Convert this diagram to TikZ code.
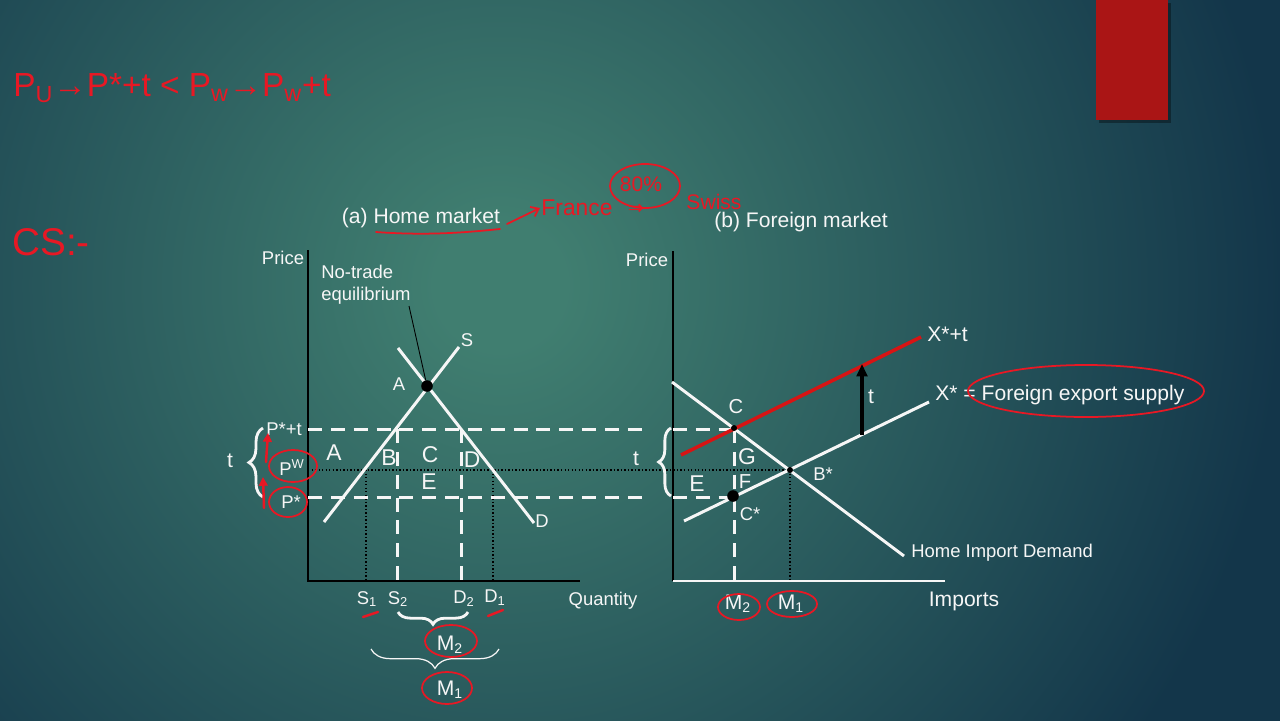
\documentclass[tikz,border=0pt]{standalone}
\usepackage{fontspec}
\setmainfont{Liberation Sans}
\newfontfamily\symfont{DejaVu Sans}
\usetikzlibrary{decorations.pathreplacing,arrows.meta}

\definecolor{bgdark}{RGB}{19,54,74}
\definecolor{bglight}{RGB}{64,126,112}
\definecolor{boxred}{RGB}{170,21,21}
\definecolor{pen}{RGB}{232,24,36}
\definecolor{curvered}{RGB}{215,20,20}
\definecolor{ink}{RGB}{246,246,246}
\pgfdeclareradialshading{bgglow}{\pgfpoint{0bp}{0bp}}{color(0bp)=(bglight); color(1.4bp)=(bglight); color(17bp)=(bgdark); color(50bp)=(bgdark)}

\begin{document}
\begin{tikzpicture}[x=0.02cm,y=-0.02cm,
  lbl/.style={text=ink, inner sep=0pt, font=\fontsize{10.5}{12.6}\selectfont},
  midlbl/.style={text=ink, inner sep=0pt, font=\fontsize{11.5}{13.5}\selectfont},
  biglbl/.style={text=ink, inner sep=0pt, font=\fontsize{13}{15}\selectfont},
  ttl/.style={text=ink, inner sep=0pt, font=\fontsize{12}{14}\selectfont},
  curve/.style={draw=ink, line width=1.7pt},
  redcurve/.style={draw=curvered, line width=2pt},
  axisline/.style={draw=black, line width=1.1pt},
  guide/.style={draw=ink, line width=1.7pt, dash pattern=on 8pt off 5pt},
  dotguide/.style={draw=black, line width=0.8pt, dash pattern=on 0.8pt off 1.2pt},
  pen/.style={draw=pen, line width=1pt, line cap=round, line join=round},
  penfont/.style={text=pen, inner sep=0pt},
  dotnode/.style={circle, fill=black, inner sep=0pt, minimum size=6.6pt},
  smalldot/.style={circle, fill=black, inner sep=0pt, minimum size=3.4pt},
  wbrace/.style={draw=ink, line width=1.6pt, decorate, decoration={brace, amplitude=#1}},
  wbrace/.default=7pt,
]
\useasboundingbox (0,0) rectangle (1280,720);

% background
\fill[bgdark] (0,0) rectangle (1280,720);
\begin{scope}
  \clip (0,0) rectangle (1280,720);
  \shade[shading=bgglow] (500,285) circle (1150);
\end{scope}

% red box
\fill[black, opacity=0.35] (1099,3) rectangle (1171,123);
\fill[boxred] (1096,0) rectangle (1168,120);

% titles
\node[ttl] (titleA) at (421,218) {(a) Home market};
\node[ttl] (titleB) at (801,222) {(b) Foreign market};

% axes
\coordinate (LT) at (308,250); \coordinate (LO) at (308,581); \coordinate (LR) at (580,581);
\coordinate (RT) at (673,251); \coordinate (RO) at (673,581); \coordinate (RR) at (945,581);
\draw[axisline] (LT) -- (LO) -- (LR);
\draw[axisline] (RT) -- (RO);
\draw[draw=ink, line width=1.3pt] (RO) -- (RR);

\node[lbl] (priceL) at (283,258) {Price};
\node[lbl] (qty) at (603,601) {Quantity};
\node[lbl] (priceR) at (647,260) {Price};
\node[ttl] (imports) at (964,601) {Imports};

% dotted guides
\coordinate (dh1) at (308,470); \coordinate (dh2) at (790,470);
\draw[dotguide] (dh1) -- (dh2);
\coordinate (s1t) at (366,470); \coordinate (s1b) at (366,581);
\coordinate (d1t) at (493,470); \coordinate (d1b) at (493,581);
\coordinate (m1t) at (790,470); \coordinate (m1b) at (790,581);
\draw[dotguide] (s1t) -- (s1b);
\draw[dotguide] (d1t) -- (d1b);
\draw[dotguide] (m1t) -- (m1b);

% dashed guides
\coordinate (pt1) at (308,429); \coordinate (pt2) at (648,429);
\coordinate (pt3) at (673,429); \coordinate (pt4) at (734,429);
\coordinate (ps1) at (308,497); \coordinate (ps2) at (648,497);
\coordinate (ps3) at (673,497); \coordinate (ps4) at (732,497);
\draw[guide] (pt1) -- (pt2);
\draw[guide] (pt3) -- (pt4);
\draw[guide] (ps1) -- (ps2);
\draw[guide] (ps3) -- (ps4);
\coordinate (s2t) at (397,429); \coordinate (s2b) at (397,581);
\coordinate (d2t) at (461,429); \coordinate (d2b) at (461,581);
\coordinate (m2t) at (734,429); \coordinate (m2b) at (734,581);
\draw[guide] (s2t) -- (s2b);
\draw[guide] (d2t) -- (d2b);
\draw[guide] (m2t) -- (m2b);

% home supply and demand
\coordinate (Sa) at (324,522); \coordinate (Sb) at (459,347);
\coordinate (Da) at (398,348); \coordinate (Db) at (534,523);
\draw[curve] (Sa) -- (Sb);
\draw[curve] (Da) -- (Db);
\node[lbl] (Slab) at (467,340) {S};
\node[lbl] (Dlab) at (542,521) {D};
\node[dotnode] (dotA) at (427,386) {};
\node[lbl] (Alab) at (399,384) {A};
\node[lbl, align=left, anchor=north west] (notrade) at (321,265) {No-trade\\equilibrium};
\coordinate (nt) at (409,306);
\draw[black, line width=0.5pt] (nt) -- (dotA);

% area letters, home
\node[biglbl] (aA) at (334,453) {A};
\node[biglbl] (aB) at (389,458) {B};
\node[biglbl] (aC) at (430,455) {C};
\node[biglbl] (aD) at (472,460) {D};
\node[biglbl] (aE) at (429,482) {E};

% price labels
\node[lbl] (pst) at (284,429) {P*+t};
\node[lbl] (pw) at (292,468) {P\textsuperscript{W}};
\node[lbl] (ps) at (291,502) {P*};
\draw[wbrace=8pt] (263,497) -- (263,428);
\node[ttl] (tL) at (230,461) {t};

% quantity labels
\node[lbl] (S1lab) at (367,599) {S\textsubscript{1}};
\node[lbl] (S2lab) at (398,599) {S\textsubscript{2}};
\node[lbl] (D2lab) at (464,599) {D\textsubscript{2}};
\node[lbl] (D1lab) at (495,598) {D\textsubscript{1}};
\draw[wbrace=7pt] (468,612) -- (398,612);
\node[ttl] (M2lab) at (450,645) {M\textsubscript{2}};
\draw[draw=ink, line width=0.7pt, decorate, decoration={brace, amplitude=11pt}] (499,649) -- (371,649);
\node[ttl] (M1lab) at (450,690) {M\textsubscript{1}};

% foreign market curves
\coordinate (HDa) at (672,382); \coordinate (HDb) at (904,556);
\coordinate (Xa) at (684,521); \coordinate (Xb) at (929,402);
\coordinate (Xta) at (681,455); \coordinate (Xtb) at (921,337);
\draw[curve] (HDa) -- (HDb);
\draw[curve] (Xa) -- (Xb);
\draw[redcurve] (Xta) -- (Xtb);
\node[ttl, anchor=west] (Xtlab) at (927,334) {X*+t};
\node[ttl, anchor=west] (Xlab) at (935,395) {X* = Foreign export supply};
\node[lbl, anchor=west] (HIDlab) at (911,553) {Home Import Demand};
\coordinate (ta) at (862,435); \coordinate (tb) at (862,364);
\draw[black, line width=2pt, -{Triangle[length=7pt,width=6pt]}] (ta) -- (tb);
\node[ttl] (tArrow) at (871,397) {t};

\node[smalldot] (dotC) at (734,428) {};
\node[smalldot] (dotB) at (790,470) {};
\node[dotnode] (dotCs) at (733,496) {};
\node[midlbl] (Clab) at (736,407) {C};
\node[biglbl] (Glab) at (747,457) {G};
\node[midlbl] (Flab) at (745,482) {F};
\node[biglbl] (Elab) at (697,484) {E};
\node[lbl] (Cslab) at (750,514) {C*};
\node[lbl] (Bslab) at (823,474) {B*};
\draw[wbrace=7pt] (671,496) -- (671,428);
\node[ttl] (tR) at (636,459) {t};

\node[ttl] (M2r) at (738,604) {M\textsubscript{2}};
\node[ttl] (M1r) at (791,604) {M\textsubscript{1}};

% handwritten annotations
\node[penfont, anchor=west, font=\fontsize{19}{22}\selectfont] (formula) at (13,88)
  {P\textsubscript{U}→P*+t < P\textsubscript{w}→P\textsubscript{w}+t};
\node[penfont, anchor=west, font=\fontsize{22}{26}\selectfont] (cs) at (12,242) {CS:-};
\coordinate (ul1) at (376,232); \coordinate (ul2) at (500,229);
\draw[pen] (ul1) .. controls (430,236) and (470,232) .. (ul2);
\coordinate (ar1) at (507,224); \coordinate (ar2) at (540,208);
\draw[pen, -{Straight Barb[length=4pt,width=6pt]}] (ar1) -- (ar2);
\node[penfont, font=\fontsize{13}{15}\selectfont] (france) at (577,208) {France};
\node[penfont, font=\fontsize{12}{14}\selectfont] (pct) at (641,184) {80\%};
\draw[pen] (645,186) ellipse (35 and 22);
\node[penfont, font=\symfont\fontsize{11}{13}\selectfont] (impl) at (636,209) {⇒};
\node[penfont, font=\fontsize{12}{14}\selectfont] (swiss) at (714,202) {Swiss};

\draw[pen] (1086,391) ellipse (118 and 26);
\draw[pen] (293,466) ellipse (24 and 16);
\draw[pen] (288,502) ellipse (19 and 15);
\coordinate (ra1) at (266,462); \coordinate (ra2) at (268,433);
\coordinate (rb1) at (264,508); \coordinate (rb2) at (263,477);
\draw[pen, line width=1.4pt, -{Triangle[length=5pt,width=5pt]}] (ra1) -- (ra2);
\draw[pen, line width=1.4pt, -{Triangle[length=5pt,width=5pt]}] (rb1) -- (rb2);
\draw[pen] (451,641) ellipse (26 and 16);
\draw[pen] (447,688) ellipse (25 and 16);
\draw[pen] (739,607) ellipse (21 and 13);
\draw[pen] (792,604) ellipse (25 and 13);
\coordinate (tk1) at (363,617); \coordinate (tk2) at (378,612);
\coordinate (tk3) at (488,616); \coordinate (tk4) at (503,610);
\draw[pen, line width=1.4pt] (tk1) -- (tk2);
\draw[pen, line width=1.4pt] (tk3) -- (tk4);
\end{tikzpicture}
\end{document}
